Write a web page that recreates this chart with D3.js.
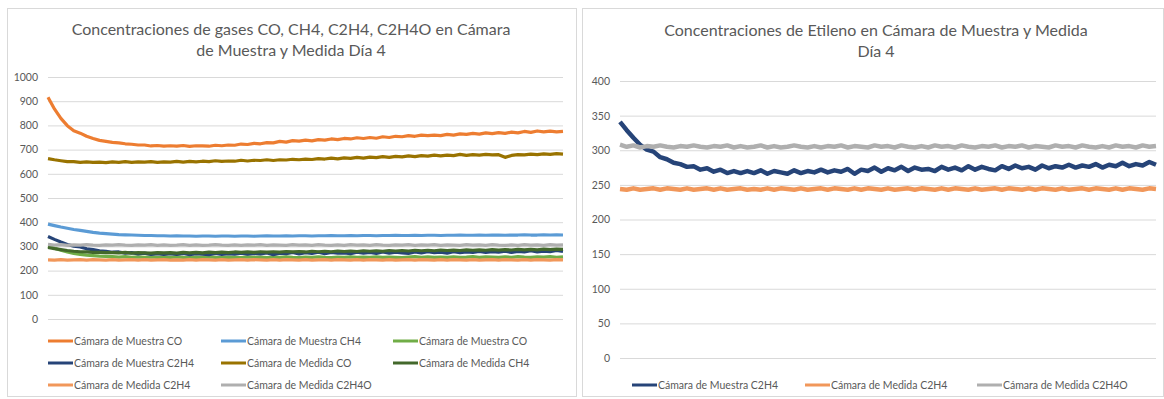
<!DOCTYPE html>
<html>
<head>
<meta charset="utf-8">
<script src="https://cdn.jsdelivr.net/npm/d3@7"></script>
<style>
  body { margin: 0; background: #fff; }
  svg text { font-family: Lato, "Open Sans", sans-serif; fill: #595959; }
</style>
</head>
<body>
<svg id="chart" width="1164" height="399"></svg>
<script>
// Sensor readings (ppm) over the day-4 run, one value per sampling step.
const muestraCO = [
  916, 868, 829, 799, 778, 768, 755, 746, 738, 734,
  730, 728, 724, 722, 719, 719, 715, 717, 714, 716,
  714, 717, 713, 716, 715, 714, 718, 716, 719, 718,
  723, 721, 726, 724, 729, 728, 734, 731, 737, 735,
  739, 736, 741, 739, 744, 741, 746, 744, 749, 746,
  750, 747, 753, 750, 755, 753, 758, 755, 760, 758,
  760, 758, 763, 760, 765, 763, 767, 764, 769, 766,
  770, 767, 772, 769, 775, 771, 777, 773, 776, 773,
  775
];
const muestraCH4 = [
  392, 386, 380, 375, 370, 366, 362, 358, 355, 353,
  351, 349, 348, 347, 346, 345, 345, 344, 344, 343,
  344, 343, 343, 342, 343, 343, 342, 343, 343, 342,
  343, 343, 342, 343, 344, 343, 343, 344, 343, 344,
  344, 343, 344, 344, 345, 344, 344, 345, 344, 345,
  345, 344, 345, 345, 346, 345, 345, 346, 345, 346,
  346, 345, 346, 346, 347, 346, 346, 347, 346, 347,
  347, 346, 347, 347, 348, 347, 347, 348, 347, 348,
  347
];
const muestraCOb = [
  301, 292, 284, 277, 271, 267, 264, 262, 260, 259,
  258, 256, 258, 255, 257, 255, 257, 255, 256, 255,
  257, 255, 254, 256, 255, 257, 255, 254, 256, 255,
  254, 257, 255, 256, 254, 256, 255, 257, 255, 254,
  256, 255, 257, 255, 254, 256, 255, 257, 255, 256,
  255, 257, 255, 256, 255, 254, 256, 258, 255, 257,
  255, 256, 255, 257, 255, 256, 258, 255, 257, 256,
  255, 257, 255, 258, 256, 255, 257, 256, 258, 255,
  257
];
const muestraC2H4 = [
  341, 329, 318, 308, 301, 298, 290, 287, 282, 280,
  276, 277, 272, 274, 269, 272, 267, 270, 267, 270,
  267, 271, 266, 270, 268, 266, 271, 267, 270, 268,
  272, 268, 271, 269, 273, 266, 272, 270, 275, 269,
  274, 271, 276, 270, 275, 272, 273, 270, 276, 272,
  275, 271, 277, 272, 276, 273, 271, 277, 273, 278,
  274, 276, 272, 278, 274, 277, 275, 279, 275, 278,
  276, 280, 275, 279, 277, 282, 277, 280, 278, 283,
  279
];
const medidaCO = [
  663, 658, 654, 650, 650, 647, 649, 647, 648, 646,
  649, 647, 650, 647, 649, 648, 650, 647, 649, 648,
  651, 648, 651, 649, 652, 650, 654, 651, 653, 652,
  656, 653, 656, 655, 658, 655, 658, 657, 660, 658,
  661, 659, 663, 661, 665, 662, 666, 664, 668, 665,
  669, 667, 671, 668, 672, 670, 674, 671, 675, 673,
  677, 674, 677, 675, 680, 676, 679, 677, 680, 678,
  679, 668, 676, 679, 678, 681, 679, 682, 680, 683,
  681
];
const medidaCH4 = [
  296, 291, 287, 283, 280, 278, 277, 275, 275, 274,
  274, 273, 275, 272, 274, 273, 272, 274, 273, 274,
  272, 275, 273, 275, 273, 276, 274, 276, 274, 277,
  275, 277, 275, 278, 276, 278, 276, 279, 277, 279,
  277, 280, 278, 280, 278, 281, 279, 281, 279, 282,
  280, 282, 280, 283, 281, 283, 281, 284, 282, 284,
  282, 285, 283, 285, 283, 286, 284, 286, 284, 287,
  285, 287, 285, 288, 286, 288, 286, 289, 287, 289,
  288
];
const medidaC2H4 = [
  244, 243, 245, 243, 244, 245, 243, 245, 244, 243,
  245, 243, 244, 245, 243, 245, 243, 244, 245, 243,
  244, 243, 245, 243, 245, 244, 243, 245, 243, 244,
  245, 243, 245, 244, 243, 245, 243, 245, 244, 243,
  245, 243, 244, 245, 243, 245, 244, 243, 245, 243,
  245, 244, 243, 245, 243, 244, 245, 243, 245, 244,
  243, 245, 243, 245, 244, 243, 245, 243, 244, 245,
  243, 245, 244, 243, 245, 243, 245, 244, 243, 245,
  244
];
const medidaC2H4O = [
  308, 305, 307, 304, 306, 305, 307, 305, 304, 306,
  305, 307, 305, 304, 306, 305, 307, 304, 306, 304,
  305, 307, 304, 306, 304, 305, 307, 305, 304, 306,
  304, 306, 305, 307, 304, 306, 305, 304, 307, 305,
  306, 304, 307, 305, 304, 306, 304, 307, 305, 306,
  304, 307, 305, 304, 306, 305, 307, 304, 306, 305,
  307, 304, 306, 305, 304, 307, 305, 306, 304, 307,
  305, 304, 306, 304, 307, 305, 306, 304, 307, 305,
  306
];

const leftTicks = [0, 100, 200, 300, 400, 500, 600, 700, 800, 900, 1000];
const rightTicks = [0, 50, 100, 150, 200, 250, 300, 350, 400];

const leftTitle = ["Concentraciones de gases CO, CH4, C2H4, C2H4O en Cámara", "de Muestra y Medida Día 4"];
const rightTitle = ["Concentraciones de Etileno en Cámara de Muestra y Medida", "Día 4"];

const leftSeries = [
  { name: "Cámara de Muestra CO",    values: muestraCO,   color: "#ED7D31" },
  { name: "Cámara de Muestra CH4",   values: muestraCH4,  color: "#5B9BD5" },
  { name: "Cámara de Muestra CO",    values: muestraCOb,  color: "#70AD47" },
  { name: "Cámara de Muestra C2H4",  values: muestraC2H4, color: "#264478" },
  { name: "Cámara de Medida CO",     values: medidaCO,    color: "#997300" },
  { name: "Cámara de Medida CH4",    values: medidaCH4,   color: "#43682B" },
  { name: "Cámara de Medida C2H4",   values: medidaC2H4,  color: "#F1975A" },
  { name: "Cámara de Medida C2H4O",  values: medidaC2H4O, color: "#AFAFAF" }
];
const rightSeries = [
  { name: "Cámara de Muestra C2H4",  values: muestraC2H4, color: "#264478" },
  { name: "Cámara de Medida C2H4",   values: medidaC2H4,  color: "#F1975A" },
  { name: "Cámara de Medida C2H4O",  values: medidaC2H4O, color: "#AFAFAF" }
];

const svg = d3.select("#chart");

function panel(cfg) {
  const g = svg.append("g");
  // frame
  g.append("rect")
    .attr("x", cfg.frame[0] + 0.5).attr("y", cfg.frame[1] + 0.5)
    .attr("width", cfg.frame[2]).attr("height", cfg.frame[3])
    .attr("fill", "#fff").attr("stroke", "#D9D9D9");

  // title
  const t = g.append("text")
    .attr("x", cfg.titleX).attr("y", cfg.titleY)
    .attr("text-anchor", "middle")
    .style("font-size", "16px");
  cfg.title.forEach((line, i) => {
    t.append("tspan").attr("x", cfg.titleX).attr("dy", i === 0 ? 0 : 21).text(line);
  });

  const n = cfg.series[0].values.length;
  const x = d3.scaleLinear().domain([0, n - 1]).range(cfg.xRange);
  const y = d3.scaleLinear().domain(cfg.yDomain).range(cfg.yRange);

  // gridlines + tick labels
  const axis = d3.axisLeft(y).tickValues(cfg.ticks).tickFormat(d3.format("d"))
    .tickSize(-(cfg.xRange[1] - cfg.xRange[0])).tickPadding(10);
  const ax = g.append("g").attr("transform", `translate(${cfg.xRange[0]},0)`).call(axis);
  ax.select(".domain").remove();
  ax.selectAll(".tick line").attr("stroke", "#D9D9D9");
  ax.selectAll(".tick text").style("font-size", "10.5px").attr("fill", "#595959");

  // series
  const line = d3.line().x((d, i) => x(i)).y(d => y(d)).curve(d3.curveLinear);
  cfg.series.forEach(s => {
    g.append("path")
      .attr("d", line(s.values))
      .attr("fill", "none")
      .attr("stroke", s.color)
      .attr("stroke-width", cfg.lineWidth)
      .attr("stroke-linejoin", "round");
  });

  // legend
  cfg.series.forEach((s, i) => {
    const col = i % cfg.legendCols.length;
    const row = Math.floor(i / cfg.legendCols.length);
    const lx = cfg.legendCols[col];
    const ly = cfg.legendRows[row];
    g.append("line")
      .attr("x1", lx).attr("x2", lx + 25)
      .attr("y1", ly).attr("y2", ly)
      .attr("stroke", s.color).attr("stroke-width", 3);
    g.append("text")
      .attr("x", lx + 26).attr("y", ly)
      .attr("dy", "0.35em")
      .style("font-size", "10.5px")
      .text(s.name);
  });
}

panel({
  frame: [7, 8, 569, 388],
  title: leftTitle, titleX: 291, titleY: 35,
  series: leftSeries,
  xRange: [48, 563], yDomain: [0, 1000], yRange: [319, 77],
  ticks: leftTicks, lineWidth: 3.2,
  legendCols: [48, 221, 393], legendRows: [341, 363, 385]
});

panel({
  frame: [582, 8, 581, 388],
  title: rightTitle, titleX: 876, titleY: 36,
  series: rightSeries,
  xRange: [620, 1156], yDomain: [0, 400], yRange: [358, 81],
  ticks: rightTicks, lineWidth: 4.5,
  legendCols: [632, 805, 977], legendRows: [385]
});
</script>
</body>
</html>
